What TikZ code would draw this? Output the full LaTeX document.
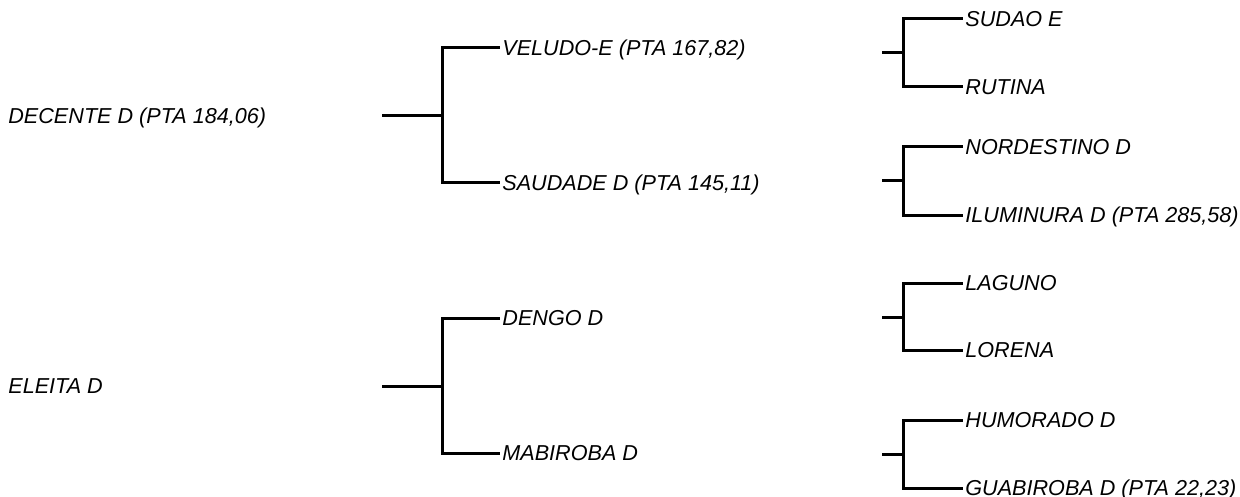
\documentclass[tikz,border=0pt]{standalone}
\usepackage{fontspec}
\setmainfont{Liberation Sans}
\usetikzlibrary{positioning}
\tikzset{
every node/.style = {font = \fontsize{10.8}{12}\selectfont\itshape},
taxon/.style = {anchor = west, inner sep = 1pt, text height = 7.7pt, text depth = 0pt},
branch/.style = {line width = 1.5pt, line join = miter}
}
\begin{document}
\begin{tikzpicture}[x = 0.5pt, y = -0.5pt]
\useasboundingbox (0,0) rectangle (1240,497);

%% Roots and their stubs
\foreach \i/\y/\t in {1/116/{DECENTE D (PTA 184,06)}, 2/386/{ELEITA D}}{
   \node [taxon] (r\i) at (6,\y) {\t};
   \coordinate (s\i) at (382,\y);
   \coordinate (f\i) at (442,\y);
   \draw [branch] (s\i) -- (f\i);
}

%% Second level
\foreach \i/\p/\y/\t in {1/1/48/{VELUDO-E (PTA 167,82)}, 2/1/183/{SAUDADE D (PTA 145,11)},
   3/2/318/{DENGO D}, 4/2/453/{MABIROBA D}}{
   \node [taxon] (m\i) at (500,\y) {\t};
   \draw [branch] (f\p) |- (m\i.west);
}

%% Third level forks
\foreach \i/\y in {1/53, 2/181, 3/317, 4/454}{
   \coordinate (t\i) at (882,\y);
   \coordinate (g\i) at (903,\y);
   \draw [branch] (t\i) -- (g\i);
}

%% Leaves
\foreach \i/\p/\y/\t in {1/1/19/{SUDAO E}, 2/1/87/{RUTINA}, 3/2/147/{NORDESTINO D},
   4/2/215/{ILUMINURA D (PTA 285,58)}, 5/3/283/{LAGUNO}, 6/3/350/{LORENA},
   7/4/420/{HUMORADO D}, 8/4/488/{GUABIROBA D (PTA 22,23)}}{
   \node [taxon] (l\i) at (963,\y) {\t};
   \draw [branch] (g\p) |- (l\i.west);
}

\end{tikzpicture}
\end{document}
